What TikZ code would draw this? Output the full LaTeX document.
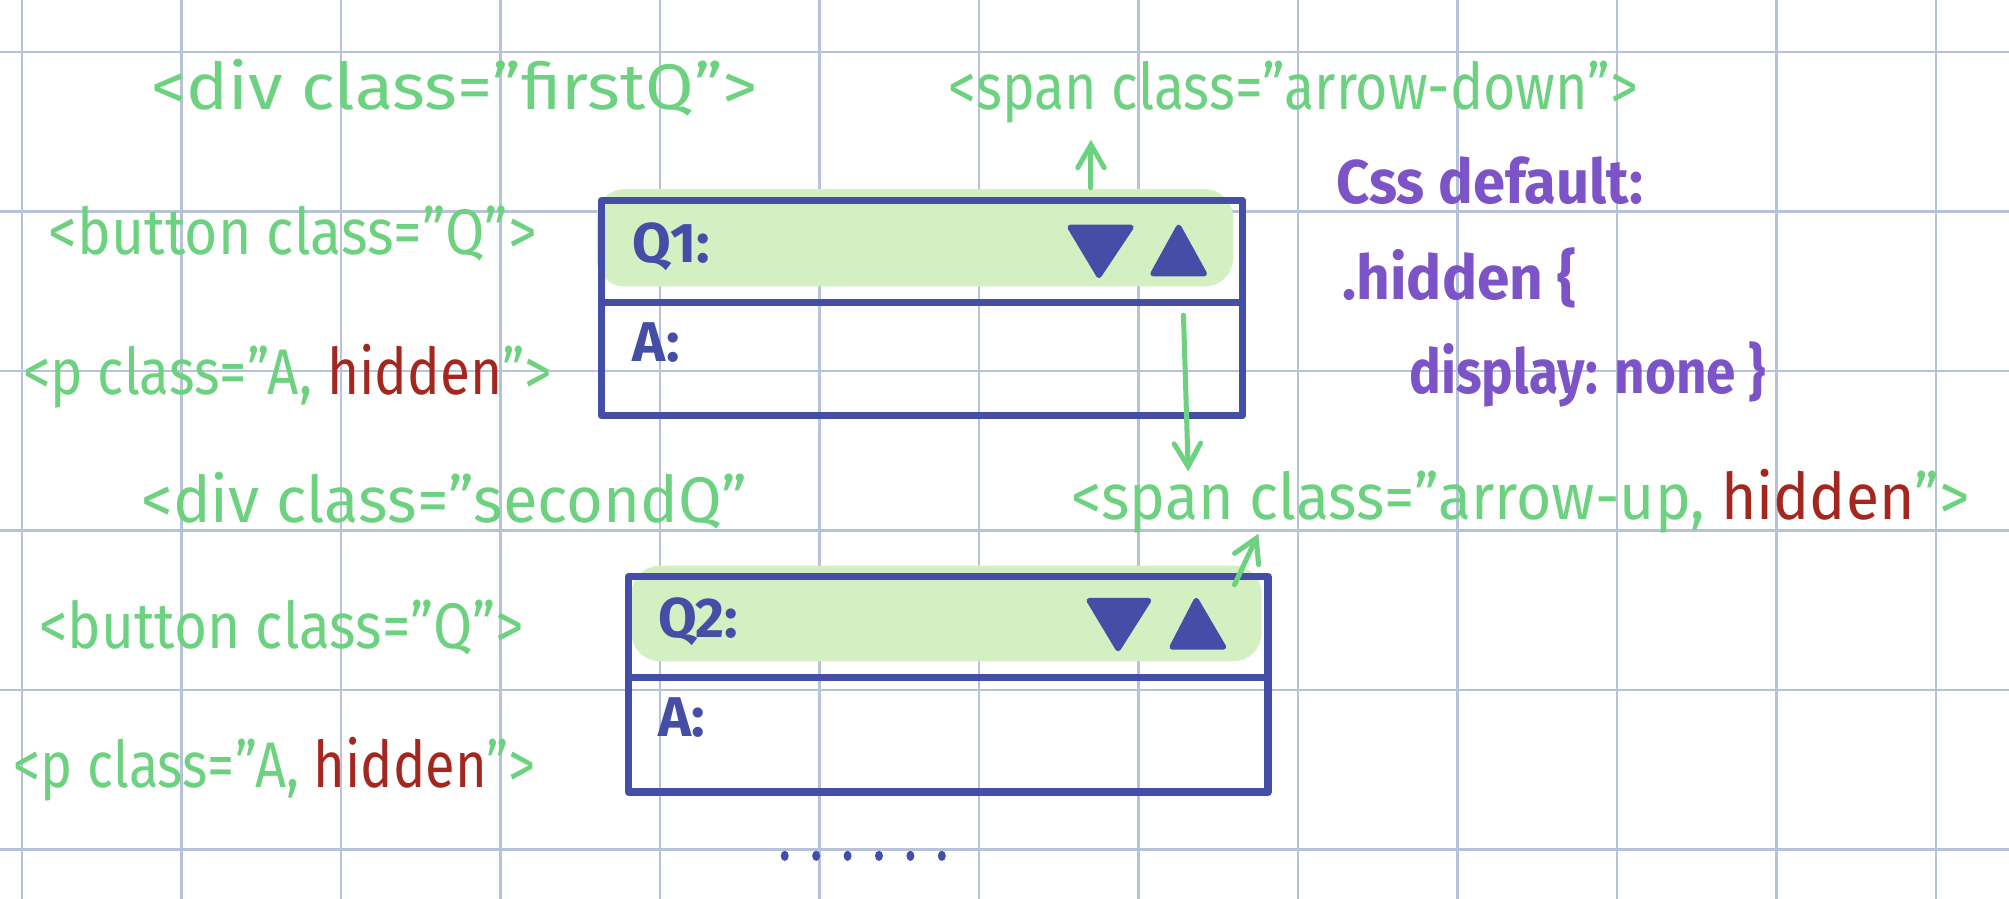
\documentclass[tikz,border=0pt]{standalone}
\usepackage{fontspec}
\setmainfont{Fira Sans}
\usepackage{xcolor}
\usepackage{tikz}
\usetikzlibrary{arrows}

\definecolor{tagGreen}{RGB}{108,210,128}
\definecolor{hiddenRed}{RGB}{163,38,31}
\definecolor{boxBlue}{RGB}{68,78,166}
\definecolor{cssPurple}{RGB}{124,84,200}
\definecolor{padGreen}{RGB}{212,240,194}
\definecolor{gridBlue}{RGB}{182,194,218}

\tikzset{
    gridline/.style = {gridBlue, line width = 0.45pt},
    htmltag/.style = {anchor = base west, inner sep = 0pt, text = tagGreen,
        font = \fontsize{11.5}{13}\selectfont},
    csstext/.style = {anchor = base west, inner sep = 0pt, text = cssPurple,
        font = \bfseries\fontsize{11}{13}\selectfont},
    boxlabel/.style = {anchor = base west, inner sep = 0pt, text = boxBlue,
        font = \bfseries\fontsize{10}{12}\selectfont},
    qabox/.style = {boxBlue, line width = 1.3pt, line join = round},
    padding/.style = {fill = padGreen, rounded corners = 5pt},
    toggle/.style = {fill = boxBlue, draw = boxBlue, line width = 1pt, line join = round},
    hint/.style = {->, >=angle 60, tagGreen, line width = 0.9pt, line cap = round}
}

\newcommand{\hid}{\textcolor{hiddenRed}{hidden}}
\newcommand{\narrow}[2]{\scalebox{#1}[1]{#2}}

\begin{document}
\begin{tikzpicture}
        \useasboundingbox (0, 0) rectangle (12.596, 5.636);

        % squared paper
        \foreach \gx in {0,...,12}
            \draw[gridline] (\gx + 0.138, 0) -- (\gx + 0.138, 5.636);
        \foreach \gy in {0,...,5}
            \draw[gridline] (0, \gy + 0.31) -- (12.596, \gy + 0.31);

        % first question
        \fill[padding] (3.74, 3.84) rectangle (7.73, 4.45);
        \draw[qabox] (3.77, 4.38) rectangle (7.79, 3.03);
        \draw[qabox] (3.77, 3.74) -- (7.79, 3.74);
        \filldraw[toggle] (6.71, 4.21) -- (7.09, 4.21) -- (6.89, 3.91) -- cycle;
        \filldraw[toggle] (7.23, 3.92) -- (7.55, 3.92) -- (7.39, 4.21) -- cycle;
        \node[boxlabel] (qone) at (3.96, 3.99) {Q1:};
        \node[boxlabel] (aone) at (3.96, 3.37) {A:};

        % second question
        \fill[padding] (3.96, 1.49) rectangle (7.91, 2.09);
        \draw[qabox] (3.94, 2.02) rectangle (7.95, 0.67);
        \draw[qabox] (3.94, 1.39) -- (7.95, 1.39);
        \filldraw[toggle] (6.83, 1.87) -- (7.20, 1.87) -- (7.01, 1.57) -- cycle;
        \filldraw[toggle] (7.35, 1.58) -- (7.67, 1.58) -- (7.50, 1.87) -- cycle;
        \node[boxlabel] (qtwo) at (4.12, 1.64) {Q2:};
        \node[boxlabel] (atwo) at (4.12, 1.02) {A:};

        % html tags
        \node[htmltag] (divfirst) at (0.94, 4.95) {\narrow{1.09}{<div class="firstQ">}};
        \node[htmltag] (btnone) at (0.30, 4.04) {\narrow{0.885}{<button class="Q">}};
        \node[htmltag] (pone) at (0.14, 3.16) {\narrow{0.85}{<p class="A, \hid">}};
        \node[htmltag] (divsecond) at (0.88, 2.36) {\narrow{0.98}{<div class="secondQ"}};
        \node[htmltag] (btntwo) at (0.24, 1.57) {\narrow{0.88}{<button class="Q">}};
        \node[htmltag] (ptwo) at (0.08, 0.70) {\narrow{0.84}{<p class="A, \hid">}};
        \node[htmltag] (spandown) at (5.94, 4.95) {\narrow{0.86}{<span class="arrow-down">}};
        \node[htmltag] (spanup) at (6.71, 2.38) {\narrow{0.94}{<span class="arrow-up, \hid">}};

        % css note
        \node[csstext] (cssnote) at (8.37, 4.36) {\narrow{0.94}{Css default:}};
        \node[csstext] (cssrule) at (8.41, 3.76) {\narrow{0.95}{.hidden \{}};
        \node[csstext] (cssbody) at (8.83, 3.17) {\narrow{0.86}{display: none \}}};

        % pointers
        \coordinate (downfoot) at (6.84, 4.46);
        \coordinate (downtip) at (6.84, 4.76);
        \coordinate (swapfoot) at (7.42, 3.66);
        \coordinate (swaptip) at (7.45, 2.68);
        \coordinate (upfoot) at (7.74, 1.97);
        \coordinate (uptip) at (7.89, 2.29);
        \draw[hint] (downfoot) -- (downtip);
        \draw[hint] (swapfoot) -- (swaptip);
        \draw[hint] (upfoot) -- (uptip);

        % more questions
        \foreach \k in {0,...,5}
            \fill[boxBlue] (4.92 + \k * 0.197, 0.27) ellipse (0.025 and 0.032);
        \end{tikzpicture}
\end{document}
